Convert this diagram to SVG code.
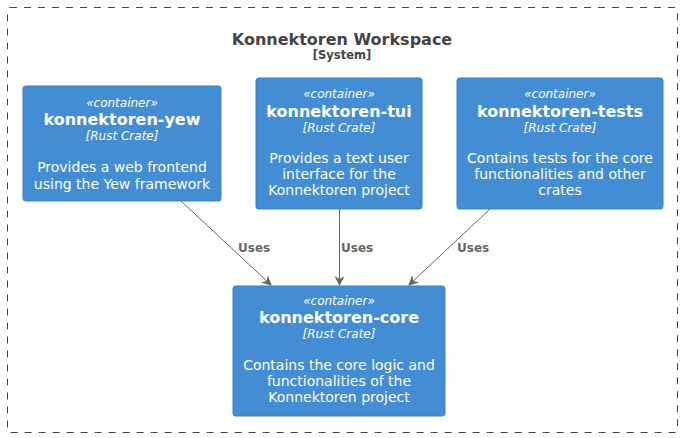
<svg xmlns="http://www.w3.org/2000/svg" width="684" height="438" viewBox="0 0 684 438">
<defs>
<marker id="arr" viewBox="0 0 10 10" refX="9" refY="5" markerWidth="10" markerHeight="10" markerUnits="userSpaceOnUse" orient="auto">
<path d="M0,0 L10,5 L0,10 L3,5 Z" fill="#666666"/>
</marker>
<style>
text{font-family:"DejaVu Sans","Noto Sans",sans-serif;text-anchor:middle;fill:#FFFFFF}
.box{fill:#438DD5;stroke:#3C7FC0;stroke-width:1}
.st{font-size:12px;font-style:italic}
.nm{font-size:16px;font-weight:bold}
.te{font-size:12px;font-style:italic}
.ds{font-size:14px}
.lbl{font-size:12px;font-weight:bold;fill:#666666;text-anchor:start}
.edge{stroke:#666666;stroke-width:1;fill:none}
</style>
</defs>
<rect width="684" height="438" fill="#FFFFFF"/>
<g id="boundary">
<rect x="7.5" y="7.5" width="670" height="425" rx="2.5" fill="none" stroke="#444444" stroke-width="1" stroke-dasharray="7,7"/>
<text x="342" y="45" style="font-size:16px;font-weight:bold;fill:#444444">Konnektoren Workspace</text>
<text x="342" y="58.5" style="font-size:11.5px;font-weight:bold;fill:#444444">[System]</text>
</g>
<g id="yew">
<rect class="box" x="23" y="86" width="198" height="115" rx="2.5"/>
<text class="st" x="122" y="107">«container»</text>
<text class="nm" x="122" y="125">konnektoren-yew</text>
<text class="te" x="122" y="140">[Rust Crate]</text>
<text class="ds" x="122" y="172">Provides a web frontend</text>
<text class="ds" x="122" y="189">using the Yew framework</text>
</g>
<g id="tui">
<rect class="box" x="256" y="78" width="166" height="131" rx="2.5"/>
<text class="st" x="339" y="98">«container»</text>
<text class="nm" x="339" y="117">konnektoren-tui</text>
<text class="te" x="339" y="132">[Rust Crate]</text>
<text class="ds" x="339" y="163">Provides a text user</text>
<text class="ds" x="339" y="179">interface for the</text>
<text class="ds" x="339" y="195">Konnektoren project</text>
</g>
<g id="tests">
<rect class="box" x="457" y="78" width="206" height="131" rx="2.5"/>
<text class="st" x="560" y="98">«container»</text>
<text class="nm" x="560" y="117">konnektoren-tests</text>
<text class="te" x="560" y="132">[Rust Crate]</text>
<text class="ds" x="560" y="163">Contains tests for the core</text>
<text class="ds" x="560" y="179">functionalities and other</text>
<text class="ds" x="560" y="195">crates</text>
</g>
<g id="core">
<rect class="box" x="233" y="286" width="212" height="130" rx="2.5"/>
<text class="st" x="339" y="305">«container»</text>
<text class="nm" x="339" y="323">konnektoren-core</text>
<text class="te" x="339" y="338">[Rust Crate]</text>
<text class="ds" x="339" y="370">Contains the core logic and</text>
<text class="ds" x="339" y="386">functionalities of the</text>
<text class="ds" x="339" y="402">Konnektoren project</text>
</g>
<g id="connectors">
<line class="edge" x1="181" y1="201" x2="271" y2="285" marker-end="url(#arr)"/>
<line class="edge" x1="339.5" y1="209" x2="339.5" y2="285" marker-end="url(#arr)"/>
<line class="edge" x1="490" y1="209" x2="409" y2="285" marker-end="url(#arr)"/>
<text class="lbl" x="238" y="252">Uses</text>
<text class="lbl" x="341" y="252">Uses</text>
<text class="lbl" x="457" y="252">Uses</text>
</g>
</svg>
